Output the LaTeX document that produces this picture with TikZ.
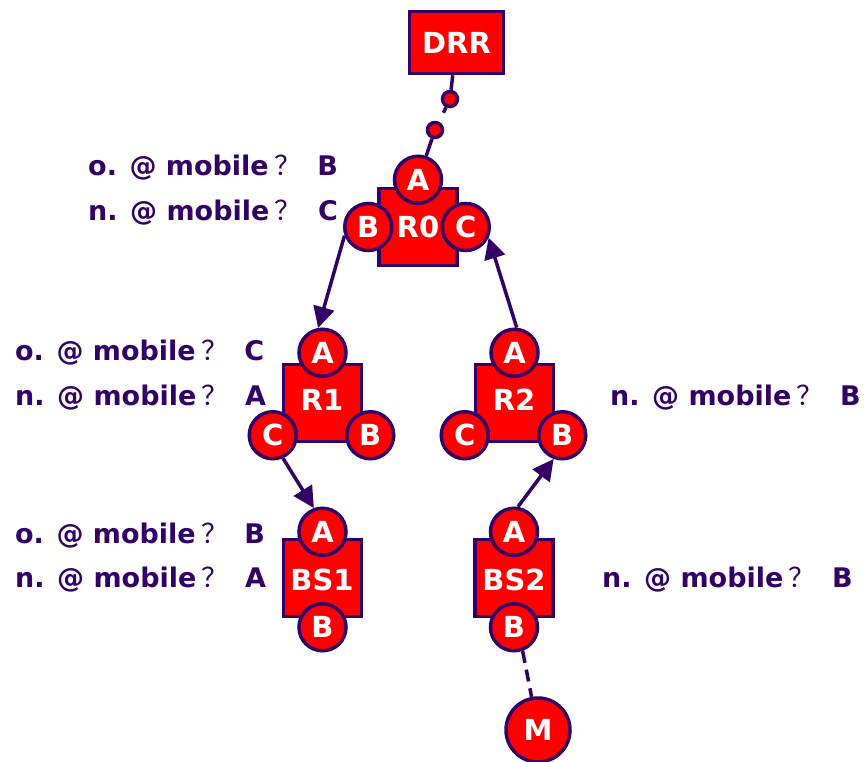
\documentclass[tikz,border=0pt]{standalone}
\usepackage{fontspec}
\setmainfont{DejaVu Sans}
\newfontfamily\cjk{Noto Sans CJK SC}
\usetikzlibrary{arrows.meta,positioning}
\definecolor{edge}{HTML}{330066}
\definecolor{body}{HTML}{FF0000}
\newcommand\qmark{\hspace{0.2em}{\mdseries\cjk ？}}

\begin{document}
\begin{tikzpicture}[x=1pt, y=-1pt, >={Triangle[length=21pt,width=21pt]},
  box/.style={draw=edge, fill=body, line width=3.5pt, minimum width=78pt, minimum height=77pt, inner sep=0pt,
    text=white, font=\fontsize{29}{29}\selectfont\bfseries},
  port/.style={circle, draw=edge, fill=body, line width=3.5pt, minimum size=47pt, inner sep=0pt,
    text=white, font=\fontsize{29}{29}\selectfont\bfseries},
  dot/.style={circle, draw=edge, fill=body, line width=3.5pt, minimum size=15pt, inner sep=0pt},
  link/.style={draw=edge, line width=3.5pt},
  flow/.style={->, draw=edge, fill=edge, line width=3.5pt},
  note/.style={anchor=west, text=edge, inner sep=0pt, font=\fontsize{27}{27}\selectfont\bfseries}]
  \useasboundingbox (0,0) rectangle (868,761);

  % routers and base stations
  \node[box, minimum width=94pt, minimum height=62pt] (drr) at (456.5,42.5) {DRR};
  \node[box] (r0) at (418,227) {R0};
  \node[box] (r1) at (322.5,403) {};
  \node[box] (r2) at (514.5,403) {};
  \node[box] (bs1) at (322.5,578) {};
  \node[box] (bs2) at (514,578) {};
  \node[text=white, font=\fontsize{29}{29}\selectfont\bfseries] at (322,400) {R1};
  \node[text=white, font=\fontsize{29}{29}\selectfont\bfseries] at (514,400) {R2};
  \node[text=white, font=\fontsize{29}{29}\selectfont\bfseries] at (322,580) {BS1};
  \node[text=white, font=\fontsize{29}{29}\selectfont\bfseries] at (514,580) {BS2};

  % interfaces
  \node[port] (r0a) at ([yshift=7pt]r0.north) {A};
  \node[port] (r0b) at ([xshift=-9pt]r0.west) {B};
  \node[port] (r0c) at ([xshift=7pt]r0.east) {C};
  \node[port] (r1a) at ([yshift=10pt]r1.north) {A};
  \node[port] (r1c) at ([xshift=-9pt,yshift=8pt]r1.south west) {C};
  \node[port] (r1b) at ([xshift=7pt,yshift=8pt]r1.south east) {B};
  \node[port] (r2a) at ([yshift=10pt]r2.north) {A};
  \node[port] (r2c) at ([xshift=-9pt,yshift=8pt]r2.south west) {C};
  \node[port] (r2b) at ([xshift=7pt,yshift=8pt]r2.south east) {B};
  \node[port] (bs1a) at ([yshift=6pt]bs1.north) {A};
  \node[port] (bs1b) at ([yshift=-9pt]bs1.south) {B};
  \node[port] (bs2a) at ([yshift=6pt]bs2.north) {A};
  \node[port] (bs2b) at ([yshift=-9pt]bs2.south) {B};
  \node[port, minimum size=64pt] (m) at (538,730) {M};

  % path to the DRR
  \node[dot] (dot1) at (450,99) {};
  \node[dot] (dot2) at (435,130) {};
  \draw[link] (drr) -- (dot1);
  \draw[link, dash pattern=on 6pt off 20pt] (dot1) -- (dot2);
  \draw[link] (dot2) -- (r0a);
  \draw[link, dash pattern=on 12pt off 7pt] (bs2b.-70) -- (m);

  % forwarding
  \draw[flow] (r0b.200) -- (r1a.100);
  \draw[flow] (r2a.85) -- (r0c.-25);
  \draw[flow] (r1c.-66) -- (bs1a.110);
  \draw[flow] (bs2a.81) -- (r2b.-110);

  % mobile entries
  \node[note] (r0old) at (88,168) {o. @ mobile\qmark\hspace{0.6em}B};
  \node[note] (r0new) at (88,213) {n. @ mobile\qmark\hspace{0.6em}C};
  \node[note] (r1old) at (15,353) {o. @ mobile\qmark\hspace{0.6em}C};
  \node[note] (r1new) at (15,398) {n. @ mobile\qmark\hspace{0.6em}A};
  \node[note] (r2new) at (610,398) {n. @ mobile\qmark\hspace{0.6em}B};
  \node[note] (bs1old) at (15,536) {o. @ mobile\qmark\hspace{0.6em}B};
  \node[note] (bs1new) at (15,580) {n. @ mobile\qmark\hspace{0.6em}A};
  \node[note] (bs2new) at (602,580) {n. @ mobile\qmark\hspace{0.6em}B};
\end{tikzpicture}
\end{document}
